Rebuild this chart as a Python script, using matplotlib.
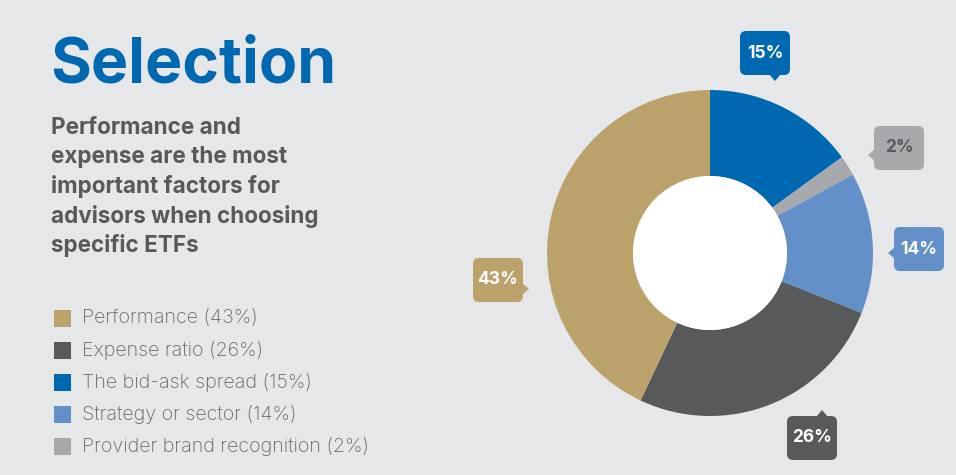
import matplotlib
matplotlib.use("Agg")
import matplotlib.pyplot as plt
from matplotlib.patches import FancyBboxPatch, Polygon, Circle

# Survey results: factors advisors weigh when choosing ETFs
factors = ["Performance", "Expense ratio", "The bid-ask spread",
           "Strategy or sector", "Provider brand recognition"]
shares = [43, 26, 15, 14, 2]
colors = ["#bba26b", "#58595b", "#0067b1", "#6390c8", "#a7a9ac"]

# Clockwise order of the ring, starting at 12 o'clock
ring_order = [2, 4, 3, 1, 0]

BG = "#e6e7e9"
W, H = 956, 475
FONT = ["Inter", "DejaVu Sans"]

fig = plt.figure(figsize=(W / 100, H / 100), dpi=100, facecolor=BG)
ax = fig.add_axes([0, 0, 1, 1])
ax.set_facecolor(BG)

def Y(y):
    return H - y

cx, cy, r_out, r_in = 710, 253, 163, 77

vals = [shares[i] for i in ring_order]
cols = [colors[i] for i in ring_order]
ax.pie(vals, colors=cols, startangle=90, counterclock=False,
       center=(cx, Y(cy)), radius=r_out,
       wedgeprops=dict(width=r_out - r_in, linewidth=0), frame=True)
ax.add_patch(Circle((cx, Y(cy)), r_in, facecolor="white", edgecolor="none", zorder=3))

# Callout boxes: (centre x, centre y, pointer side, pointer offset along the edge)
callouts = {
    2: (765, 53, "down", 10),
    4: (899, 148, "left", 7),
    3: (919, 249, "left", 4),
    1: (812, 438, "up", 10),
    0: (498, 280, "right", 9),
}
bw, bh = 50, 44
for idx, (bx, by, side, off) in callouts.items():
    fc = colors[idx]
    tc = "#58595b" if idx == 4 else "white"
    box = FancyBboxPatch((bx - bw / 2, Y(by) - bh / 2), bw, bh,
                         boxstyle="round,pad=0,rounding_size=6",
                         facecolor=fc, edgecolor="none", zorder=4)
    ax.add_patch(box)
    t = 6
    if side == "down":
        px = bx + off
        tri = [(px - t, Y(by + bh / 2) + 1), (px + t, Y(by + bh / 2) + 1), (px, Y(by + bh / 2 + t))]
    elif side == "up":
        px = bx + off
        tri = [(px - t, Y(by - bh / 2) - 1), (px + t, Y(by - bh / 2) - 1), (px, Y(by - bh / 2 - t))]
    elif side == "left":
        py = by + off
        tri = [(bx - bw / 2 + 1, Y(py) + t), (bx - bw / 2 + 1, Y(py) - t), (bx - bw / 2 - t, Y(py))]
    else:
        py = by + off
        tri = [(bx + bw / 2 - 1, Y(py) + t), (bx + bw / 2 - 1, Y(py) - t), (bx + bw / 2 + t, Y(py))]
    ax.add_patch(Polygon(tri, closed=True, facecolor=fc, edgecolor="none", zorder=4))
    ax.text(bx, Y(by), f"{shares[idx]}%", ha="center", va="center",
            fontsize=12.5, fontweight="bold", color=tc, family=FONT, zorder=5)

# Heading and subheading
ax.text(50, Y(66), "Selection", fontsize=45, fontweight="bold", color="#0067b1",
        family=FONT, ha="left", va="center")
sub = ["Performance and", "expense are the most", "important factors for",
       "advisors when choosing", "specific ETFs"]
for i, line in enumerate(sub):
    ax.text(51, Y(128 + i * 29.4), line, fontsize=16.2, fontweight="bold",
            color="#58595b", family=FONT, ha="left", va="center")

# Legend
for i, (name, s, c) in enumerate(zip(factors, shares, colors)):
    yy = 318 + i * 32
    ax.add_patch(plt.Rectangle((54, Y(yy) - 8.5), 17, 17, facecolor=c, edgecolor="none"))
    ax.text(82, Y(yy), f"{name} ({s}%)", fontsize=14.2, fontweight="light",
            color="#66676a", family=FONT, ha="left", va="center")

ax.set_xlim(0, W)
ax.set_ylim(0, H)
ax.set_aspect("equal")
ax.axis("off")

fig.savefig("out.png", dpi=100, facecolor=BG)
